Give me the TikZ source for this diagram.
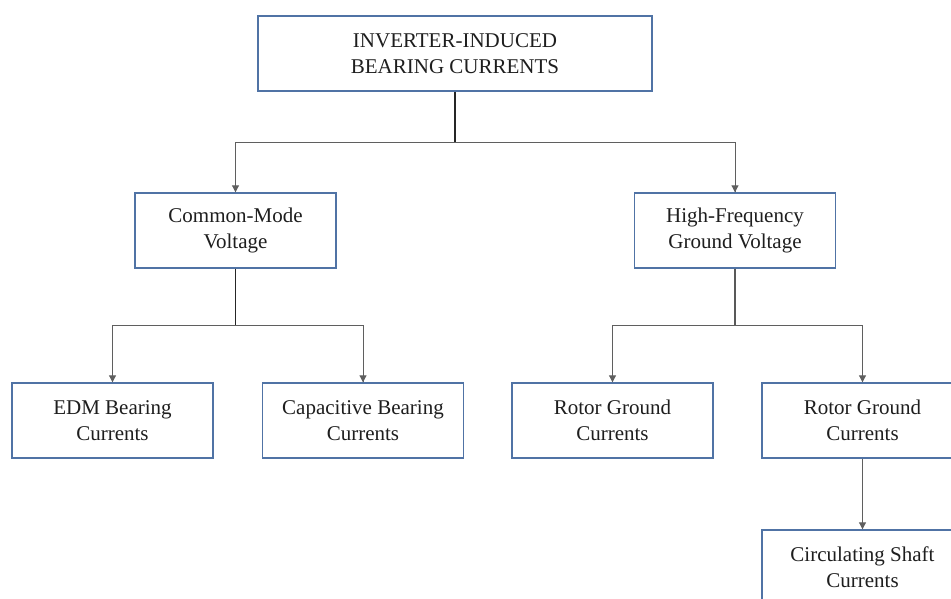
\documentclass[tikz,border=0pt]{standalone}
\usepackage{fontspec}
\setmainfont{Liberation Serif}
\usetikzlibrary{arrows.meta}
\definecolor{boxblue}{RGB}{80,115,165}
\definecolor{txt}{RGB}{30,30,30}
\definecolor{conn}{RGB}{95,95,95}
\tikzset{
  box/.style={draw=boxblue, line width=1.4pt, fill=white, minimum width=201pt, minimum height=75pt, inner sep=0pt, align=center, font=\fontsize{21}{26}\selectfont, text=txt},
  stem/.style={draw=black!85, line width=1.6pt},
  branch/.style={draw=conn, line width=1pt},
  arr/.style={draw=conn, line width=1pt, -{Triangle[length=7pt,width=7pt]}},
}
\begin{document}
\begin{tikzpicture}[x=1pt,y=-1pt]
\useasboundingbox (0,0) rectangle (951,599);
\clip (0,0) rectangle (951,599);
\node[box, minimum width=394pt] (top) at (455,53.5) {INVERTER-INDUCED\\BEARING CURRENTS};
\node[box] (cmv) at (235.5,230.5) {Common-Mode\\Voltage};
\node[box] (hfgv) at (735,230.5) {High-Frequency\\Ground Voltage};
\node[box] (edm) at (112.5,420.5) {EDM Bearing\\Currents};
\node[box] (cap) at (363,420.5) {Capacitive Bearing\\Currents};
\node[box] (rg1) at (612.5,420.5) {Rotor Ground\\Currents};
\node[box] (rg2) at (862.5,420.5) {Rotor Ground\\Currents};
\node[box] (circ) at (862.5,567.5) {Circulating Shaft\\Currents};
\coordinate (j1) at (455,143);
\coordinate (j2) at (235.5,325);
\coordinate (j3) at (735,325);
\draw[stem] (top.south) -- (j1);
\draw[branch] (j1) -| (cmv.north);
\draw[branch] (j1) -| (hfgv.north);
\draw[arr] (cmv.north |- j1) -- (cmv.north);
\draw[arr] (hfgv.north |- j1) -- (hfgv.north);
\draw[stem] (cmv.south) -- (j2);
\draw[branch] (j2) -| (edm.north);
\draw[branch] (j2) -| (cap.north);
\draw[arr] (edm.north |- j2) -- (edm.north);
\draw[arr] (cap.north |- j2) -- (cap.north);
\draw[stem, draw=black!65] (hfgv.south) -- (j3);
\draw[branch] (j3) -| (rg1.north);
\draw[branch] (j3) -| (rg2.north);
\draw[arr] (rg1.north |- j3) -- (rg1.north);
\draw[arr] (rg2.north |- j3) -- (rg2.north);
\draw[arr] (rg2.south) -- (circ.north);
\end{tikzpicture}
\end{document}
